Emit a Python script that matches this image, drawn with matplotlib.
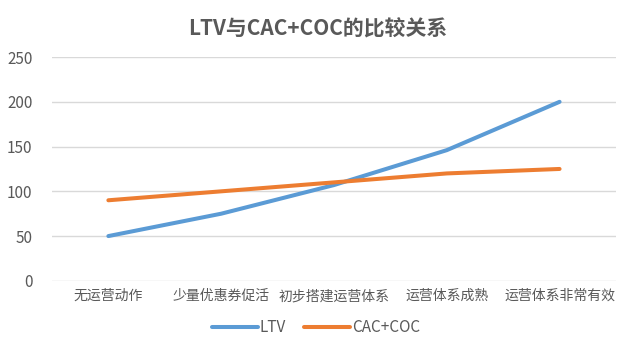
import matplotlib
matplotlib.use("Agg")
import matplotlib.pyplot as plt

plt.rcParams["font.family"] = ["Noto Sans CJK SC", "DejaVu Sans"]

stages = ["无运营动作", "少量优惠券促活", "初步搭建运营体系", "运营体系成熟", "运营体系非常有效"]
ltv = [50, 75, 107, 146, 200]
cac_coc = [90, 100, 110, 120, 125]
yticks = [0, 50, 100, 150, 200, 250]

text_color = "#595959"
grid_color = "#D9D9D9"

fig = plt.figure(figsize=(6.26, 3.48), dpi=100)
ax = fig.add_axes([0.083, 0.193, 0.901, 0.643])

x = list(range(len(stages)))
ax.plot(x, ltv, color="#5B9BD5", lw=2.9, solid_capstyle="round",
        solid_joinstyle="round", label="LTV", zorder=3)
ax.plot(x, cac_coc, color="#ED7D31", lw=2.9, solid_capstyle="round",
        solid_joinstyle="round", label="CAC+COC", zorder=3)

ax.set_xlim(-0.5, len(stages) - 0.5)
ax.set_ylim(0, 250)
ax.set_yticks(yticks)
ax.set_xticks(x)
ax.set_xticklabels(stages)
ax.grid(True, axis="y", color=grid_color, lw=1.0)
ax.set_axisbelow(True)
for s in ax.spines.values():
    s.set_visible(False)
ax.tick_params(axis="both", length=0, labelsize=10, colors=text_color)
ax.tick_params(axis="y", pad=14, labelsize=11)
ax.tick_params(axis="x", pad=6)

# title is centred on the whole figure, not on the plot area
fig.text(0.508, 0.918, "LTV与CAC+COC的比较关系", fontsize=15,
         fontweight="bold", color=text_color, ha="center", va="center")

leg = fig.legend(loc="center", bbox_to_anchor=(0.505, 0.058), ncol=2,
                 frameon=False, fontsize=11, handlelength=3.0,
                 handletextpad=0.1, columnspacing=1.2)
for t in leg.get_texts():
    t.set_color(text_color)

fig.savefig("out.png", dpi=100)
